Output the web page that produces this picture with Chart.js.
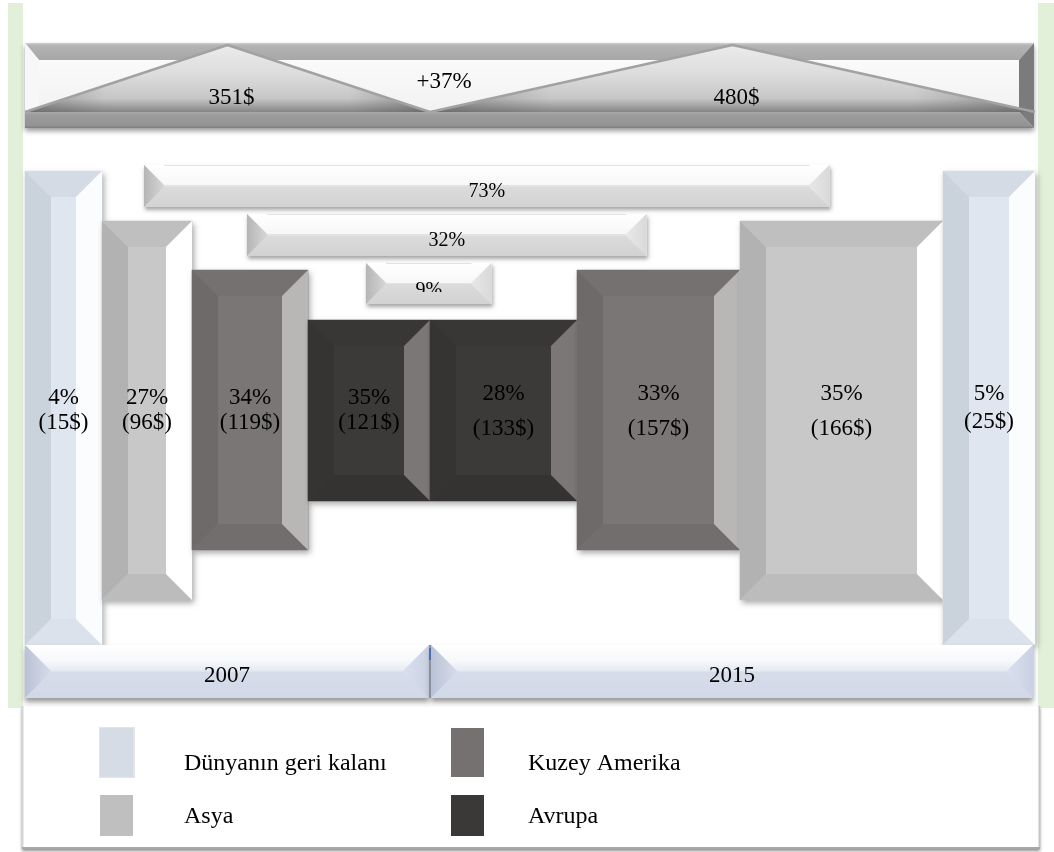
<!DOCTYPE html>
<html>
<head>
<meta charset="utf-8">
<script src="https://cdn.jsdelivr.net/npm/chart.js@4.4.1/dist/chart.umd.min.js"></script>
<style>
  html, body { margin: 0; padding: 0; background: #fff; }
  canvas { display: block; }
</style>
</head>
<body>
<canvas id="chart" width="1054" height="852"></canvas>
<script>
// --- data ---
const years = ['2007', '2015'];
const regions = ['Dünyanın geri kalanı', 'Asya', 'Kuzey Amerika', 'Avrupa'];
const shares2007 = [4, 27, 34, 35];
const values2007 = [15, 96, 119, 121];
const shares2015 = [5, 35, 33, 28];
const values2015 = [25, 166, 157, 133];
const totals = [351, 480];
const totalGrowth = 37;
const growthRegions = [1, 2, 3];   // Asya, Kuzey Amerika, Avrupa
const growth = [73, 32, 9];

// --- layout (axes are set up so one unit = one pixel) ---
const W = 1054, H = 852;
const LEFT = 25;
const ORDER = { '2007': [0, 1, 2, 3], '2015': [3, 2, 1, 0] };
const COL_W = { '2007': [77, 90, 116, 122], '2015': [92, 203, 163, 147] };
const BAR_TOP = [171, 221, 270, 320];
const BAR_BOTTOM = [645, 600, 550, 501];
const BEVEL = 26;

// --- styles ---
const FONT = '"Liberation Serif", "Times New Roman", serif';
const COLORS = [
  { face: '#dfe6ef', top: '#d5dbe4', left: '#cad2dc', right: '#fbfcfe', bottom: '#dbe2eb', swatch: '#d6dce5' },
  { face: '#c8c8c8', top: '#bfbfbf', left: '#b2b2b2', right: '#ffffff', bottom: '#bcbcbc', swatch: '#bfbfbf' },
  { face: '#7b7676', top: '#767171', left: '#6f6a6a', right: '#b9b7b6', bottom: '#736e6e', swatch: '#767171' },
  { face: '#3c3939', top: '#393636', left: '#363333', right: '#7b7777', bottom: '#353232', swatch: '#3b3838' }
];

// bar placement built from the column order
const bars = [];
let cursor = LEFT;
const spans = [];
years.forEach((yr, yi) => {
  const start = cursor;
  ORDER[yr].forEach(r => {
    const w = COL_W[yr][r];
    bars.push({ yi, r, cx: cursor + w / 2, w });
    cursor += w;
  });
  spans.push([start, cursor]);
});

const datasets = bars.map((b, i) => ({
  label: regions[b.r] + ' ' + years[b.yi],
  data: [{ x: b.cx, y: [BAR_TOP[b.r], BAR_BOTTOM[b.r]] }],
  backgroundColor: COLORS[b.r].face,
  barThickness: b.w,
  borderWidth: 0,
  stack: 'one',
  order: -i
}));

function poly(c, pts, fill) {
  c.beginPath();
  c.moveTo(pts[0][0], pts[0][1]);
  for (let i = 1; i < pts.length; i++) c.lineTo(pts[i][0], pts[i][1]);
  c.closePath();
  c.fillStyle = fill;
  c.fill();
}

function bevelBox(c, x0, y0, x1, y1, b, col) {
  const bx = Math.min(b, (x1 - x0) / 2), by = Math.min(b, (y1 - y0) / 2);
  c.fillStyle = col.face;
  c.fillRect(x0, y0, x1 - x0, y1 - y0);
  poly(c, [[x0, y0], [x1, y0], [x1 - bx, y0 + by], [x0 + bx, y0 + by]], col.top);
  poly(c, [[x0, y1], [x1, y1], [x1 - bx, y1 - by], [x0 + bx, y1 - by]], col.bottom);
  poly(c, [[x0, y0], [x0 + bx, y0 + by], [x0 + bx, y1 - by], [x0, y1]], col.left);
  poly(c, [[x1, y0], [x1 - bx, y0 + by], [x1 - bx, y1 - by], [x1, y1]], col.right);
}

function vGrad(c, y0, y1, stops) {
  const g = c.createLinearGradient(0, y0, 0, y1);
  stops.forEach(s => g.addColorStop(s[0], s[1]));
  return g;
}
function hGrad(c, x0, x1, stops) {
  const g = c.createLinearGradient(x0, 0, x1, 0);
  stops.forEach(s => g.addColorStop(s[0], s[1]));
  return g;
}

function shadowed(c, x0, y0, x1, y1, ox, oy, blur, alpha) {
  c.save();
  c.shadowColor = 'rgba(0,0,0,' + alpha + ')';
  c.shadowBlur = blur;
  c.shadowOffsetX = ox;
  c.shadowOffsetY = oy;
  c.fillStyle = '#ffffff';
  c.fillRect(x0, y0, x1 - x0, y1 - y0);
  c.restore();
}

function centerText(c, txt, x, y, size) {
  c.font = size + 'px ' + FONT;
  c.fillStyle = '#000';
  c.textAlign = 'center';
  c.textBaseline = 'alphabetic';
  c.fillText(txt, x, y);
}

const deco = {
  id: 'deco',
  beforeDatasetsDraw(chart) {
    const c = chart.ctx, xs = chart.scales.x, ys = chart.scales.y;
    const X = v => xs.getPixelForValue(v), Y = v => ys.getPixelForValue(v);

    // pale green side strips
    c.fillStyle = '#e2efd9';
    c.fillRect(X(8), Y(3), X(23) - X(8), Y(708) - Y(3));
    c.fillRect(X(1038), Y(3), X(W) - X(1038), Y(708) - Y(3));

    // legend box
    const lx0 = X(22), lx1 = X(1040), ly0 = Y(706), ly1 = Y(849);
    shadowed(c, lx0, ly0, lx1, ly1, 0, 2, 3, 0.45);
    c.fillStyle = '#fff';
    c.fillRect(lx0, ly0, lx1 - lx0, ly1 - ly0);
    c.fillStyle = '#d6d6d6';
    c.fillRect(lx0, ly0, 1.5, ly1 - ly0);
    c.fillStyle = '#c4c4c4';
    c.fillRect(lx1 - 1.5, ly0, 1.5, ly1 - ly0);
    c.fillStyle = '#a8a8a8';
    c.fillRect(lx0, ly1 - 2, lx1 - lx0, 2);

    const legCols = [[100, 184], [451, 528]];
    const legRows = [[728, 777, 770], [795, 836, 823]];
    const legPos = [[0, 0], [0, 1], [1, 0], [1, 1]];
    regions.forEach((name, r) => {
      const col = legCols[legPos[r][0]], row = legRows[legPos[r][1]];
      if (r === 0) {
        c.fillStyle = '#e4e4e4';
        c.fillRect(X(col[0] - 1), Y(row[0] - 1), 36, Y(row[1]) - Y(row[0]) + 2);
      }
      c.fillStyle = COLORS[r].swatch;
      c.fillRect(X(col[0]), Y(row[0]), 33, Y(row[1]) - Y(row[0]));
      c.font = '24px ' + FONT;
      c.fillStyle = '#000';
      c.textAlign = 'left';
      c.textBaseline = 'alphabetic';
      c.fillText(name, X(col[1]), Y(row[2]));
    });

    // top banner: totals and overall growth
    const bx0 = X(spans[0][0]), bx1 = X(spans[1][1] - 1), by0 = Y(43), by1 = Y(128);
    const tb = 17, lb = 14, rb = 15, bb = 16;
    shadowed(c, bx0, by0, bx1, by1, 0, 3, 5, 0.4);
    c.fillStyle = vGrad(c, by0, by1, [[0, '#fdfdfd'], [1, '#efefef']]);
    c.fillRect(bx0, by0, bx1 - bx0, by1 - by0);
    poly(c, [[bx0, by0], [bx1, by0], [bx1 - rb, by0 + tb], [bx0 + lb, by0 + tb]],
      vGrad(c, by0, by0 + tb, [[0, '#cfcfcf'], [0.15, '#b3b3b3'], [1, '#a7a7a7']]));
    poly(c, [[bx0, by0], [bx0 + lb, by0 + tb], [bx0 + lb, by1 - bb], [bx0, by1]], '#f7f7f7');
    poly(c, [[bx1, by0], [bx1, by1], [bx1 - rb, by1 - bb], [bx1 - rb, by0 + tb]], '#7b7b7b');

    const baseY = by1 - bb;
    spans.forEach(sp => {
      const a = X(sp[0]), b = X(sp[1]), m = (a + b) / 2;
      c.beginPath();
      c.moveTo(a, baseY);
      c.lineTo(m, Y(45));
      c.lineTo(b, baseY);
      c.closePath();
      c.fillStyle = vGrad(c, Y(45), baseY, [[0, '#ebebeb'], [0.45, '#dcdcdc'], [0.8, '#c6c6c6'], [1, '#858585']]);
      c.fill();
      c.save();
      c.clip();
      // darker shading toward the base corners
      c.fillStyle = hGrad(c, a, b, [[0, 'rgba(60,60,60,0.35)'], [0.2, 'rgba(60,60,60,0)'], [0.8, 'rgba(60,60,60,0)'], [1, 'rgba(60,60,60,0.35)']]);
      c.fillRect(a, Y(45), b - a, baseY - Y(45));
      c.restore();
      c.beginPath();
      c.moveTo(a, baseY);
      c.lineTo(m, Y(45));
      c.lineTo(b, baseY);
      c.lineJoin = 'round';
      c.strokeStyle = '#a2a2a2';
      c.lineWidth = 2.5;
      c.stroke();
    });
    poly(c, [[bx0, baseY], [bx1 - rb, baseY], [bx1, by1], [bx0, by1]],
      vGrad(c, baseY, by1, [[0, '#a9a9a9'], [0.2, '#9c9c9c'], [0.85, '#939393'], [1, '#7c7c7c']]));

    totals.forEach((t, i) => {
      const mid = (X(spans[i][0]) + X(spans[i][1])) / 2;
      centerText(c, t + '$', mid + 4, Y(104), 23);
    });
    centerText(c, '+' + totalGrowth + '%', X(spans[0][1]) + 14, Y(88), 23);

    // growth bars between the two years
    growth.forEach((g, k) => {
      const r = growthRegions[k];
      const b07 = bars.find(b => b.yi === 0 && b.r === r);
      const b15 = bars.find(b => b.yi === 1 && b.r === r);
      const x0 = X(b07.cx - 3), x1 = X(b15.cx - 12);
      const y0 = Y(165 + 49 * k), y1 = Y(165 + 49 * k + (k === 2 ? 41 : 42));
      const mid = (y0 + y1) / 2;
      shadowed(c, x0, y0, x1, y1, 1, 3, 4, 0.35);
      bevelBox(c, x0, y0, x1, y1, 20, {
        face: '#e2e2e2',
        top: vGrad(c, y0, mid, [[0, '#ffffff'], [1, '#f7f7f7']]),
        bottom: vGrad(c, mid, y1, [[0, '#dcdcdc'], [1, '#d2d2d2']]),
        left: hGrad(c, x0, x0 + 20, [[0, '#b5b5b5'], [1, '#d6d6d6']]),
        right: hGrad(c, x1 - 20, x1, [[0, '#e8e8e8'], [1, '#d9d9d9']])
      });
      c.strokeStyle = '#e3e3e3';
      c.lineWidth = 1;
      c.beginPath();
      c.moveTo(x0 + 20, y0 + 0.5);
      c.lineTo(x1 - 20, y0 + 0.5);
      c.stroke();
      const tx = (x0 + x1) / 2;
      if (k === 2) {
        c.save();
        c.beginPath();
        c.rect(x0, y0, x1 - x0, 29);
        c.clip();
        centerText(c, g + '%', tx, y0 + 33, 20);
        c.restore();
      } else {
        centerText(c, g + '%', tx, y0 + 32, 20);
      }
    });
  },

  beforeDatasetDraw(chart) {
    const c = chart.ctx;
    c.save();
    c.shadowColor = 'rgba(0,0,0,0.35)';
    c.shadowBlur = 6;
    c.shadowOffsetX = 2;
    c.shadowOffsetY = 3;
  },

  afterDatasetDraw(chart, args) {
    const c = chart.ctx;
    c.restore();
    const b = bars[args.index];
    args.meta.data.forEach(el => {
      const p = el.getProps(['x', 'y', 'base', 'width'], true);
      const x0 = p.x - p.width / 2, x1 = p.x + p.width / 2;
      const y0 = Math.min(p.y, p.base), y1 = Math.max(p.y, p.base);
      bevelBox(c, x0, y0, x1, y1, BEVEL, COLORS[b.r]);
    });
  },

  afterDatasetsDraw(chart) {
    const c = chart.ctx, xs = chart.scales.x, ys = chart.scales.y;
    const X = v => xs.getPixelForValue(v), Y = v => ys.getPixelForValue(v);

    // value labels inside the bars
    bars.forEach((b, i) => {
      const el = chart.getDatasetMeta(i).data[0];
      const share = b.yi === 0 ? shares2007[b.r] : shares2015[b.r];
      const val = b.yi === 0 ? values2007[b.r] : values2015[b.r];
      const lines = b.yi === 0 ? [404, 429] : [400, b.r === 0 ? 428 : 435];
      centerText(c, share + '%', el.x, Y(lines[0]), 23);
      centerText(c, '(' + val + '$)', el.x, Y(lines[1]), 23);
    });

    // year bars
    const yy0 = Y(645), yy1 = Y(698), mid = (yy0 + yy1) / 2;
    spans.forEach((sp, i) => {
      const x0 = X(sp[0]) + (i === 0 ? 0 : 1), x1 = X(sp[1]) - (i === 0 ? 1 : 2);
      shadowed(c, x0, yy0, x1, yy1, 0, 4, 5, 0.4);
      bevelBox(c, x0, yy0, x1, yy1, 26, {
        face: '#dde3ef',
        top: vGrad(c, yy0, mid, [[0, '#ffffff'], [0.6, '#f6f8fb'], [1, '#e4e9f2']]),
        bottom: vGrad(c, mid, yy1, [[0, '#d6dcea'], [1, '#d1d8e7']]),
        left: hGrad(c, x0, x0 + 26, [[0, '#b9c2d6'], [1, '#d5dbe9']]),
        right: hGrad(c, x1 - 26, x1, [[0, '#dae0ed'], [1, '#c9d1e2']])
      });
      centerText(c, years[i], (x0 + x1) / 2, Y(682), 23);
    });
    c.fillStyle = '#8a909c';
    c.fillRect(X(spans[0][1]) - 1, yy0, 2, yy1 - yy0);
    c.fillStyle = '#4a6fb0';
    c.fillRect(X(spans[0][1]) - 1, Y(648), 2, Y(660) - Y(648));
  }
};

const ctx = document.getElementById('chart').getContext('2d');
new Chart(ctx, {
  type: 'bar',
  data: { datasets },
  options: {
    responsive: false,
    animation: false,
    layout: { padding: 0 },
    plugins: { legend: { display: false }, tooltip: { enabled: false } },
    scales: {
      x: { type: 'linear', min: 0, max: W, display: false, offset: false, stacked: true },
      y: { type: 'linear', min: 0, max: H, reverse: true, display: false, stacked: false }
    }
  },
  plugins: [deco]
});
</script>
</body>
</html>
